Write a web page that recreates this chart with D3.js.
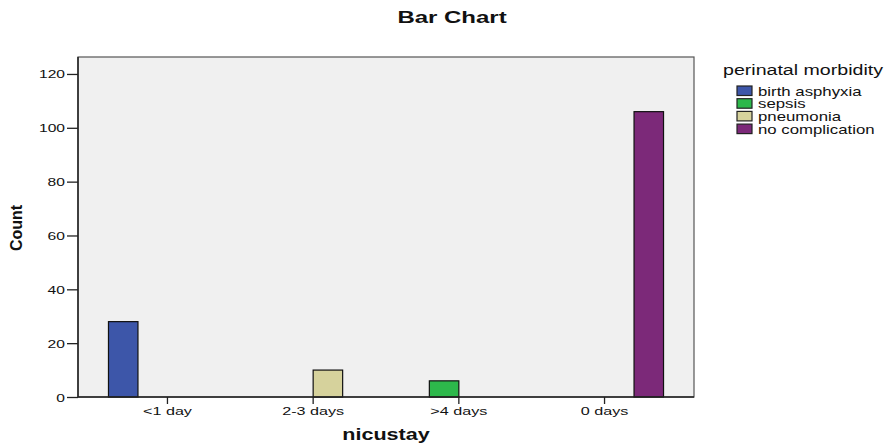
<!DOCTYPE html>
<html><head><meta charset="utf-8">
<script src="https://cdn.jsdelivr.net/npm/d3@7/dist/d3.min.js"></script>
<style>body{margin:0;background:#fff}svg{display:block}text{font-family:"Liberation Sans",Arial,sans-serif;fill:#111}</style>
</head><body><svg id="c" width="885" height="445"></svg>
<script>
const categories = ["<1 day", "2-3 days", ">4 days", "0 days"];
const seriesNames = ["birth asphyxia", "sepsis", "pneumonia", "no complication"];
const birthAsphyxia = [28, 0, 0, 0];
const sepsis = [0, 0, 6, 0];
const pneumonia = [0, 10, 0, 0];
const noComplication = [0, 0, 0, 106];
const yTicks = [0, 20, 40, 60, 80, 100, 120];
const colors = ["#3d56a9", "#2db84b", "#d6d29c", "#7c2979"];

const seriesValues = [birthAsphyxia, sepsis, pneumonia, noComplication];
const svg = d3.select("#c");
const L = 78, R = 694, T = 57, B = 397;
const SX = 1.42;

const x = d3.scaleBand().domain(categories).range([L, R]).paddingInner(0).paddingOuter(0.114);
const xs = d3.scaleBand().domain(seriesNames).range([0, x.bandwidth()]).paddingInner(0).paddingOuter(0.47);
const y = d3.scaleLinear().domain([0, 126.3]).range([B, T]);

function stext(g, str, px, py, size, weight, anchor, sx) {
  return g.append("text").attr("transform", `translate(${px},${py}) scale(${sx},1)`)
    .attr("text-anchor", anchor).style("font-size", size + "px").style("font-weight", weight).text(str);
}

// plot background
svg.append("rect").attr("x", L).attr("y", T).attr("width", R - L).attr("height", B - T)
  .attr("fill", "#f0f0f0").attr("stroke", "#555").attr("stroke-width", 1.2);

// bars
const bars = [];
seriesValues.forEach((vals, si) => vals.forEach((v, ci) => { if (v > 0) bars.push({ s: seriesNames[si], c: categories[ci], v, si }); }));
svg.append("g").selectAll("rect").data(bars).join("rect")
  .attr("x", d => x(d.c) + xs(d.s))
  .attr("y", d => y(d.v))
  .attr("width", xs.bandwidth())
  .attr("height", d => y(0) - y(d.v))
  .attr("fill", d => colors[d.si]).attr("stroke", "#111").attr("stroke-width", 1.2);

// y axis
const yAxis = svg.append("g").attr("transform", `translate(${L},0)`)
  .call(d3.axisLeft(y).tickValues(yTicks).tickSize(11).tickSizeOuter(0).tickFormat(d3.format("d")));
yAxis.select(".domain").attr("stroke", "#222").attr("stroke-width", 1.5).attr("d", `M0,${T}V${B}`);
yAxis.selectAll(".tick line").attr("stroke", "#222").attr("stroke-width", 1.3);
yAxis.selectAll(".tick text").each(function (d) {
  const t = d3.select(this);
  t.attr("x", null).attr("dy", null).attr("transform", `translate(-13,4) scale(${SX},1)`)
    .style("font-size", "11px").attr("fill", "#222").style("font-family", '"Liberation Sans",Arial,sans-serif');
});

// x axis
const xAxis = svg.append("g").attr("transform", `translate(0,${B})`)
  .call(d3.axisBottom(x).tickSize(7).tickSizeOuter(0));
xAxis.select(".domain").attr("stroke", "#222").attr("stroke-width", 1.5).attr("d", `M${L},0H${R}`);
xAxis.selectAll(".tick line").attr("stroke", "#222").attr("stroke-width", 1.3);
xAxis.selectAll(".tick text").each(function () {
  d3.select(this).attr("y", null).attr("dy", null).attr("transform", `translate(0,18) scale(${SX + 0.05},1)`)
    .style("font-size", "11px").attr("fill", "#222").style("font-family", '"Liberation Sans",Arial,sans-serif');
});

// titles
stext(svg, "Bar Chart", 452, 23, 16, "bold", "middle", 1.5);
stext(svg, "nicustay", (L + R) / 2, 440, 16, "bold", "middle", 1.35);
svg.append("text").attr("transform", "translate(22,228) rotate(-90)").attr("text-anchor", "middle")
  .style("font-size", "16px").style("font-weight", "bold").text("Count");

// legend
const lg = svg.append("g");
stext(lg, "perinatal morbidity", 723, 75, 14, "normal", "start", 1.4);
seriesNames.forEach((s, i) => {
  const yy = 86 + i * 12.7;
  lg.append("rect").attr("x", 737).attr("y", yy).attr("width", 15).attr("height", 9.5)
    .attr("fill", colors[i]).attr("stroke", "#222").attr("stroke-width", 1.2);
  stext(lg, s, 758, yy + 9.5, 12, "normal", "start", 1.4);
});
</script></body></html>
